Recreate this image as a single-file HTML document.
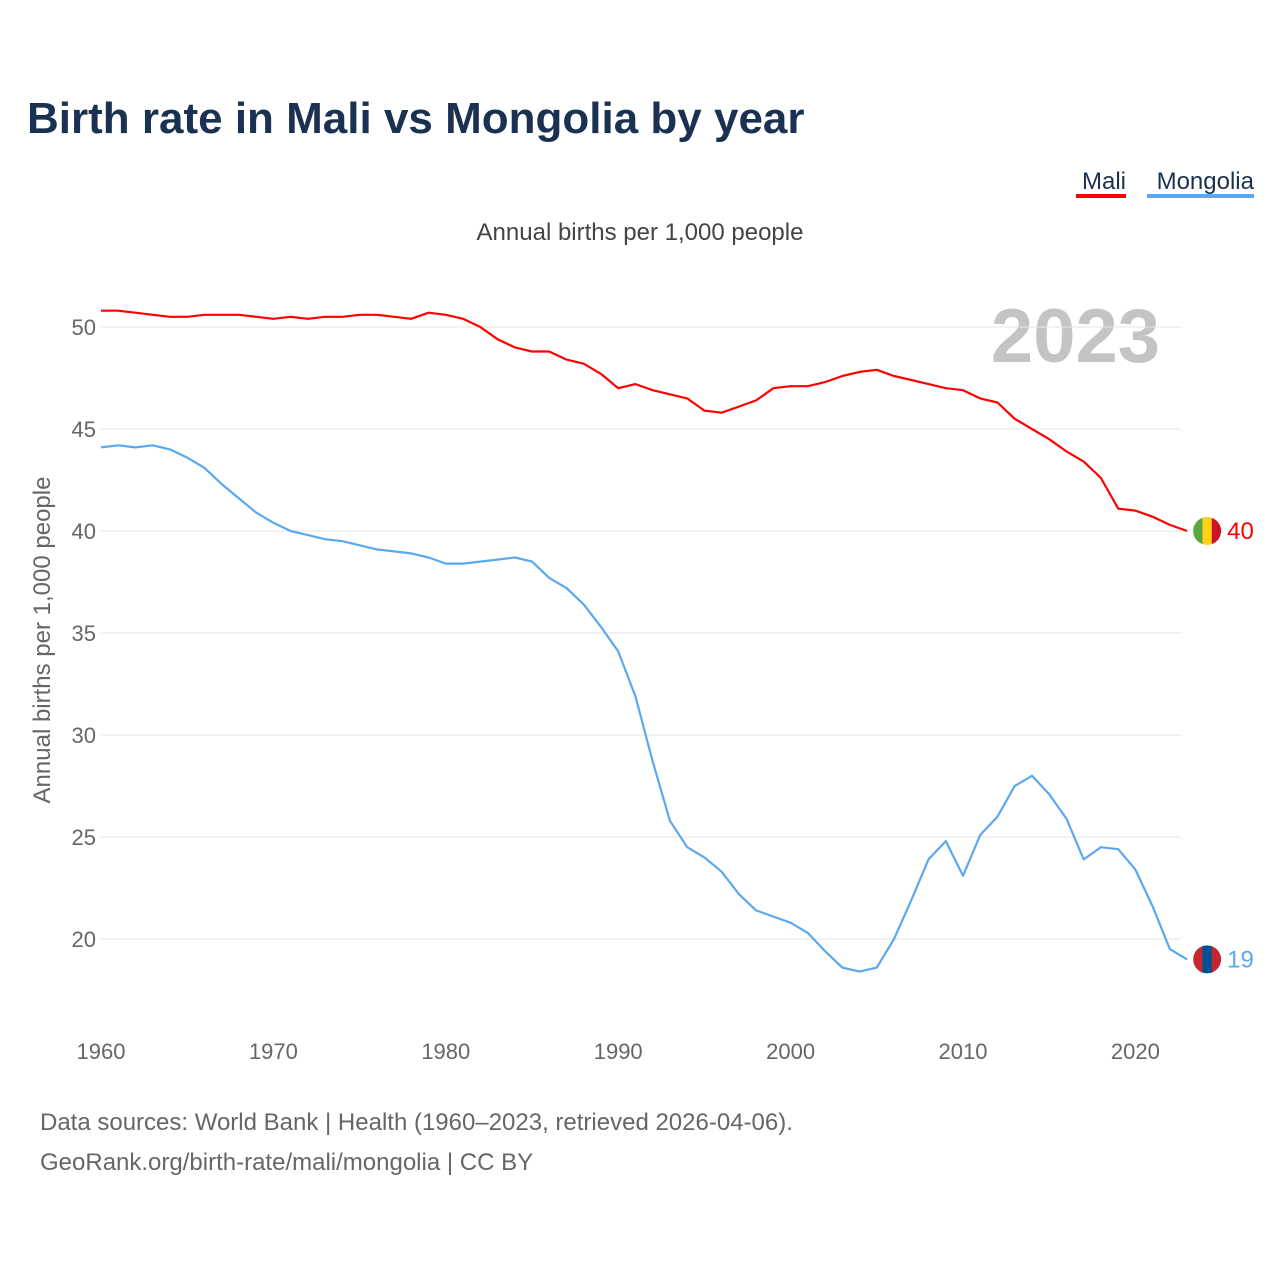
<!DOCTYPE html>
<html><head><meta charset="utf-8"><style>
body{margin:0;background:#fff;font-family:"Liberation Sans",sans-serif}
</style></head><body>
<svg width="1280" height="1280" viewBox="0 0 1280 1280" xmlns="http://www.w3.org/2000/svg" font-family="Liberation Sans, sans-serif">
<text x="27" y="133" font-size="44" font-weight="bold" fill="#1b3152">Birth rate in Mali vs Mongolia by year</text>
<g>
<text x="1126" y="189" font-size="24" fill="#1b3152" text-anchor="end">Mali</text>
<rect x="1076" y="194" width="50" height="4" fill="#ff0000"/>
<text x="1254" y="189" font-size="24" fill="#1b3152" text-anchor="end">Mongolia</text>
<rect x="1147" y="194" width="107" height="4" fill="#5ba8f0"/>
</g>
<text x="640" y="240" font-size="24" fill="#444" text-anchor="middle">Annual births per 1,000 people</text>
<text x="1160" y="362" font-size="76" font-weight="bold" fill="#c4c4c4" text-anchor="end">2023</text>
<text transform="translate(50,640) rotate(-90)" font-size="24" fill="#666" text-anchor="middle">Annual births per 1,000 people</text>
<g id="grid"></g><g id="lines"></g>
<text x="40" y="1130" font-size="24" fill="#666">Data sources: World Bank | Health (1960–2023, retrieved 2026-04-06).</text>
<text x="40" y="1170" font-size="24" fill="#666">GeoRank.org/birth-rate/mali/mongolia | CC BY</text>
</svg>
<script>
const years=[];for(let y=1960;y<=2023;y++)years.push(y);
const mali=[50.8,50.8,50.7,50.6,50.5,50.5,50.6,50.6,50.6,50.5,50.4,50.5,50.4,50.5,50.5,50.6,50.6,50.5,50.4,50.7,50.6,50.4,50.0,49.4,49.0,48.8,48.8,48.4,48.2,47.7,47.0,47.2,46.9,46.7,46.5,45.9,45.8,46.1,46.4,47.0,47.1,47.1,47.3,47.6,47.8,47.9,47.6,47.4,47.2,47.0,46.9,46.5,46.3,45.5,45.0,44.5,43.9,43.4,42.6,41.1,41.0,40.7,40.3,40.0];
const mongolia=[44.1,44.2,44.1,44.2,44.0,43.6,43.1,42.3,41.6,40.9,40.4,40.0,39.8,39.6,39.5,39.3,39.1,39.0,38.9,38.7,38.4,38.4,38.5,38.6,38.7,38.5,37.7,37.2,36.4,35.3,34.1,31.9,28.7,25.8,24.5,24.0,23.3,22.2,21.4,21.1,20.8,20.3,19.4,18.6,18.4,18.6,20.0,21.9,23.9,24.8,23.1,25.1,26.0,27.5,28.0,27.1,25.9,23.9,24.5,24.4,23.4,21.6,19.5,19.0];
const yTicks=[20,25,30,35,40,45,50];
const xTicks=[1960,1970,1980,1990,2000,2010,2020];
const NS="http://www.w3.org/2000/svg";
const xs=y=>101+(y-1960)*17.24;
const ys=v=>327+(50-v)*20.4;
const grid=document.getElementById('grid'),lines=document.getElementById('lines');
function mk(tag,attrs,parent,txt){const e=document.createElementNS(NS,tag);for(const k in attrs)e.setAttribute(k,attrs[k]);if(txt!==undefined)e.textContent=txt;parent.appendChild(e);return e;}
yTicks.forEach(v=>{
 const l=mk('line',{x1:100,x2:1181,y1:ys(v),y2:ys(v),stroke:'#e6e6e6','stroke-width':1},grid);
 
 
 const t=mk('text',{x:96,y:ys(v)+8,'font-size':22,fill:'#666','text-anchor':'end'},grid,v);
 
 
});
xTicks.forEach(y=>{
 const t=mk('text',{x:xs(y),y:1059,'font-size':22,fill:'#666','text-anchor':'middle'},grid,y);
 
 
});
function series(data,color,name,flag){
 const d=data.map((v,i)=>(i?'L':'M')+xs(years[i]).toFixed(1)+','+ys(v).toFixed(1)).join('');
 const p=mk('path',{d:d,fill:'none',stroke:color,'stroke-width':2.2,'stroke-linejoin':'round'},lines);
 
 
 const lx=xs(years[years.length-1]),lv=data[data.length-1],ly=ys(lv);
 const g=mk('g',{},lines);
 
 
 const cx=lx+20;
 mk('clipPath',{id:'c'+name},g);
 mk('circle',{cx:cx,cy:ly,r:14},g.lastChild);
 const cg=mk('g',{'clip-path':'url(#c'+name+')'},g);
 flag.forEach((c,i)=>mk('rect',{x:cx-14+i*28/3,y:ly-14,width:28/3+0.5,height:28,fill:c},cg));
 const t=mk('text',{x:cx+20,y:ly+8,'font-size':24,fill:color},lines,Math.round(lv));
 
 
}
series(mali,'#ff0000','mali',['#5aa63c','#fcd116','#ce1126']);
series(mongolia,'#5ba8f0','mongolia',['#c4272f','#015197','#c4272f']);
</script>
</body></html>
